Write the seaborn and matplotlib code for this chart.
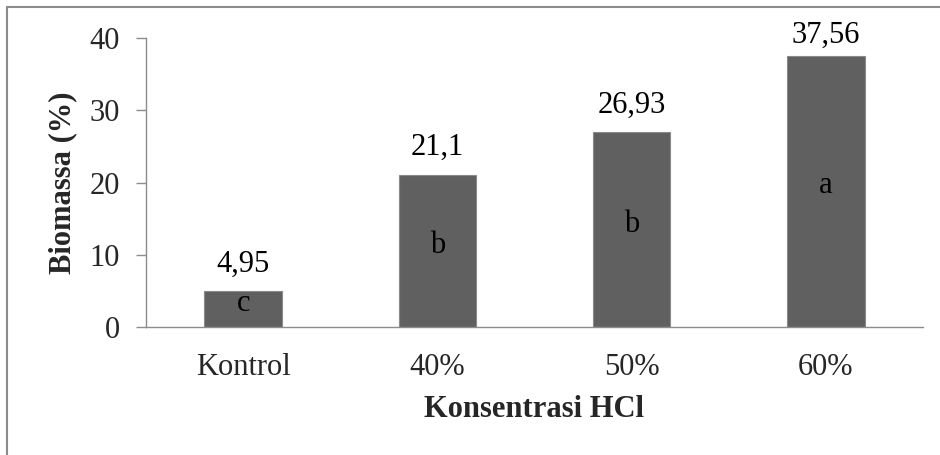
import matplotlib
matplotlib.use("Agg")
import matplotlib.pyplot as plt
from matplotlib.lines import Line2D
import seaborn as sns
import pandas as pd

# Biomass yield per HCl concentration
categories = ["Kontrol", "40%", "50%", "60%"]
biomassa = [4.95, 21.1, 26.93, 37.56]
value_labels = ["4,95", "21,1", "26,93", "37,56"]
letters = ["c", "b", "b", "a"]
yticks = [0, 10, 20, 30, 40]

sns.set_theme(style="white")
plt.rcParams["font.family"] = ["Liberation Serif", "DejaVu Serif"]

FS = 22

df = pd.DataFrame({"Konsentrasi": categories, "Biomassa": biomassa})

fig = plt.figure(figsize=(9.4, 4.55), dpi=100)
ax = fig.add_axes([146 / 940, 1 - 327 / 455, (923 - 146) / 940, (327 - 38) / 455])

sns.barplot(data=df, x="Konsentrasi", y="Biomassa", order=categories,
            color="#606060", width=0.4, saturation=1, ax=ax,
            edgecolor="#8a8a8a", linewidth=0.8)

ax.set_ylim(0, 40)
ax.set_yticks(yticks)
ax.set_xlim(-0.5, len(categories) - 0.5)

# value labels sit above each bar, but are kept inside the chart area
label_gap = 3.7      # in data units
label_ceiling = 40.4
for i, (v, lab, let) in enumerate(zip(biomassa, value_labels, letters)):
    ax.text(i, min(v + label_gap, label_ceiling), lab, ha="center", va="center",
            fontsize=FS, color="black", clip_on=False)
    ax.annotate(let, (i, v / 2), xytext=(0, 4), textcoords="offset points",
                ha="center", va="center", fontsize=FS, color="black")

for side in ["top", "right"]:
    ax.spines[side].set_visible(False)
for side in ["left", "bottom"]:
    ax.spines[side].set_color("#8c8c8c")
    ax.spines[side].set_linewidth(1.0)

ax.tick_params(axis="y", which="major", left=True, length=7, width=1.0,
               color="#8c8c8c", labelsize=FS, pad=12)
ax.tick_params(axis="x", which="major", bottom=False, labelsize=FS, pad=13)

ax.set_xlabel("Konsentrasi HCl", fontsize=FS, fontweight="bold", labelpad=9)
ax.set_ylabel("Biomassa (%)", fontsize=FS, fontweight="bold", labelpad=9)

# Chart frame (top and left edges visible)
fig.add_artist(Line2D([7 / 940, 1.0], [1 - 7 / 455, 1 - 7 / 455],
                      transform=fig.transFigure, color="#8c8c8c", linewidth=1.5))
fig.add_artist(Line2D([7 / 940, 7 / 940], [0.0, 1 - 7 / 455],
                      transform=fig.transFigure, color="#8c8c8c", linewidth=1.5))

fig.savefig("out.png", dpi=100, facecolor="white")
